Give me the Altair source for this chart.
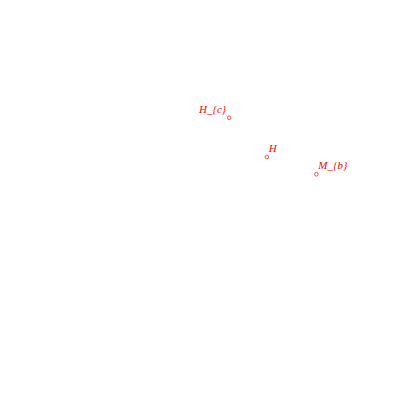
import altair as alt
import pandas as pd

labels = ["H_{c}", "H", "M_{b}"]
xs = [5.76, 6.74, 8.03]
ys = [7.14, 6.12, 5.67]
side = ["left", "right", "right"]

df = pd.DataFrame({"x": xs, "y": ys, "label": labels, "side": side})

xsc = alt.Scale(domain=[0, 10], nice=False, zero=False)
ysc = alt.Scale(domain=[0, 10], nice=False, zero=False)
enc = dict(
    x=alt.X("x:Q", scale=xsc, axis=None),
    y=alt.Y("y:Q", scale=ysc, axis=None),
)

base = alt.Chart(df)
pts = base.mark_point(shape="circle", filled=False, color="#ff0000", size=13, strokeWidth=1).encode(**enc)
font = "Liberation Serif"
txt_left = base.transform_filter(alt.datum.side == "left").mark_text(
    align="right", baseline="alphabetic", dx=-3, dy=-4.5, fontSize=11,
    font=font, fontStyle="italic", color="#ff0000"
).encode(text="label:N", **enc)
txt_right = base.transform_filter(alt.datum.side == "right").mark_text(
    align="left", baseline="alphabetic", dx=2, dy=-5, fontSize=11,
    font=font, fontStyle="italic", color="#ff0000"
).encode(text="label:N", **enc)

chart = (pts + txt_left + txt_right).properties(
    width=384, height=384, padding=0, autosize="none"
).configure(background="white", view=alt.ViewConfig(stroke=None, strokeWidth=0))

chart.save("out.html", embed_options={"renderer": "svg", "actions": False})
